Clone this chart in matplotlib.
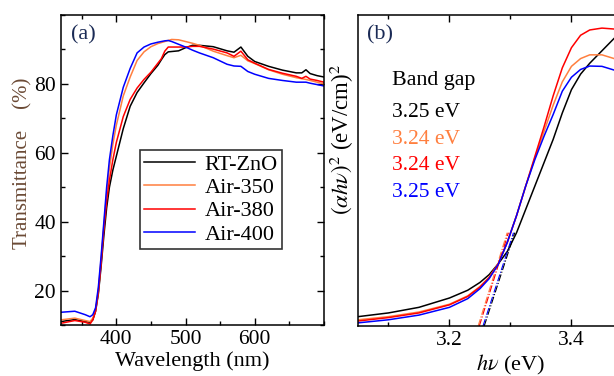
import matplotlib
matplotlib.use("Agg")
import matplotlib.pyplot as plt
from matplotlib.ticker import MultipleLocator

plt.rcParams['font.family'] = ['Liberation Serif', 'DejaVu Serif']
plt.rcParams['mathtext.fontset'] = 'stix'

# (a) transmittance spectra
wavelength = [320, 340, 355, 362, 366, 370, 374, 378, 382, 386, 390, 395, 400, 410, 420,
              430, 440, 450, 460, 465, 470, 475, 480, 490, 500, 510, 520, 540, 560, 570,
              580, 590, 600, 620, 640, 660, 668, 674, 680, 690, 700]
t_rt = [11, 11.6, 11, 10.8, 11.5, 14, 19, 27, 36, 44, 50, 55, 59, 67, 73.5,
        77.5, 80.3, 83, 85.4, 87, 88.5, 89.3, 89.4, 89.6, 90.5, 91.2, 91.2, 90.8, 89.6, 89.2,
        90.7, 88, 86.5, 85.1, 84, 83.2, 83.2, 84.1, 83, 82.4, 82]
t_350 = [11.5, 12, 11.3, 11, 12, 14.5, 20, 29, 39, 48, 55.5, 62.5, 68, 76.5, 82,
         86.8, 89.3, 90.8, 91.7, 92, 92.3, 92.6, 92.9, 92.8, 92.3, 91.8, 91.2, 89.5, 88.2, 87.6,
         88.3, 86.7, 85.9, 84.1, 82.8, 81.8, 81.5, 81.3, 81, 80.5, 80]
t_380 = [10.5, 11.3, 10.8, 10.3, 11.5, 14, 19.5, 28, 38, 46, 52, 58, 63, 70.5, 75.5,
         78.8, 81.3, 83.4, 86, 87.3, 89.5, 90.7, 90.7, 90.7, 90.7, 90.9, 90.9, 90.1, 89, 88,
         89.5, 87, 86, 84.2, 83.1, 82.2, 81.6, 82.2, 81.4, 81, 80.5]
t_400 = [13.7, 14, 13, 12.4, 13, 15, 21, 30, 40, 50, 58, 65, 71, 79, 84.5,
         89, 90.7, 91.6, 92.1, 92.3, 92.5, 92.6, 92.3, 91.5, 90.7, 89.8, 89.0, 87.6, 85.7, 85.2,
         85.1, 83.6, 82.8, 81.6, 81, 80.5, 80.5, 80.5, 80.2, 79.8, 79.4]
wl_ticks = [400, 500, 600]

# (b) Tauc plot (arbitrary units)
hv = [3.05, 3.10, 3.15, 3.20, 3.23, 3.25, 3.265, 3.28, 3.295, 3.31, 3.325, 3.34, 3.355,
      3.37, 3.385, 3.40, 3.415, 3.43, 3.45, 3.47, 3.49]
a_rt = [0.03, 0.042, 0.06, 0.09, 0.115, 0.14, 0.165, 0.20, 0.24, 0.30, 0.375, 0.45, 0.525,
        0.60, 0.685, 0.76, 0.81, 0.845, 0.885, 0.925, 0.95]
a_350 = [0.02, 0.03, 0.045, 0.07, 0.097, 0.127, 0.157, 0.20, 0.27, 0.355, 0.45, 0.54, 0.625,
         0.71, 0.785, 0.835, 0.86, 0.872, 0.872, 0.86, 0.855]
a_380 = [0.016, 0.027, 0.042, 0.068, 0.095, 0.125, 0.155, 0.20, 0.27, 0.355, 0.45, 0.545, 0.64,
         0.74, 0.83, 0.895, 0.935, 0.952, 0.958, 0.955, 0.95]
a_400 = [0.01, 0.02, 0.035, 0.06, 0.088, 0.12, 0.152, 0.198, 0.27, 0.355, 0.45, 0.535, 0.61,
         0.68, 0.755, 0.80, 0.825, 0.836, 0.835, 0.823, 0.815]

labels = ['RT-ZnO', 'Air-350', 'Air-380', 'Air-400']
colors = ['black', '#ff7f3f', '#ff0000', '#0000ff']
band_gaps = ['3.25 eV', '3.24 eV', '3.24 eV', '3.25 eV']
fit_x0 = [3.257, 3.247, 3.249, 3.255]
fit_slope = [6.0, 6.3, 6.3, 6.0]
fit_top = 0.3

fig = plt.figure(figsize=(6.14, 3.76), dpi=100)
ax1 = fig.add_axes([0.0993, 0.1356, 0.4283, 0.8245])
# panel (b) runs past the right edge of the figure, as in the original crop
ax2 = fig.add_axes([0.583, 0.133, 0.4967, 0.827])

for y, lab, c in zip([t_rt, t_350, t_380, t_400], labels, colors):
    ax1.plot(wavelength, y, color=c, lw=1.1, label=lab)
ax1.set_xlim(320, 700)
ax1.set_ylim(10, 100)
ax1.set_xticks(wl_ticks)
ax1.xaxis.set_minor_locator(MultipleLocator(50))
ax1.yaxis.set_minor_locator(MultipleLocator(10))
ax1.set_yticks([20, 40, 60, 80])
ax1.tick_params(which='both', direction='in', top=True, right=True, labelsize=15.5, width=1)
ax1.tick_params(which='major', length=5)
ax1.tick_params(which='minor', length=3)
ax1.set_xlabel('Wavelength (nm)', fontsize=16, labelpad=2)
ax1.set_ylabel('Transmittance    (%)', fontsize=15, color='#6b4a35')
ax1.yaxis.set_label_coords(-0.11, 0.52)
ax1.text(0.038, 0.935, '(a)', transform=ax1.transAxes, fontsize=16, va='center', color='#1a2a55')
leg = ax1.legend(loc='upper left', bbox_to_anchor=(0.3, 0.565), fontsize=16, frameon=True,
                 fancybox=False, handlelength=2.3, borderpad=0.2, labelspacing=0.12,
                 handletextpad=0.4, borderaxespad=0)
leg.get_frame().set_edgecolor('black')
leg.get_frame().set_linewidth(1.2)

for y, c, x0, k in zip([a_rt, a_350, a_380, a_400], colors, fit_x0, fit_slope):
    ax2.plot(hv, y, color=c, lw=1.1)
    ax2.plot([x0, x0 + fit_top / k], [0, fit_top], color=c, lw=0.8, ls='-.')
ax2.set_xlim(3.05, 3.55)
ax2.set_ylim(0, 1)
ax2.xaxis.set_minor_locator(MultipleLocator(0.1))
ax2.set_xticks([3.2, 3.4])
ax2.tick_params(which='both', direction='in', top=True, left=False, labelleft=False,
                labelsize=15.5, width=1)
ax2.tick_params(which='major', length=5)
ax2.tick_params(which='minor', length=3)
ax2.set_xlabel(r'$h\nu$ (eV)', fontsize=16, labelpad=2)
ax2.set_ylabel(r'$(\alpha h\nu)^2$ (eV/cm)$^2$', fontsize=16.5)
ax2.yaxis.set_label_coords(-0.007, 0.6)
ax2.text(0.03, 0.935, '(b)', transform=ax2.transAxes, fontsize=16, va='center', color='#1a2a55')
ax2.text(0.11, 0.79, 'Band gap', transform=ax2.transAxes, fontsize=15.8, va='center')
for i, (bg, c) in enumerate(zip(band_gaps, colors)):
    ax2.text(0.113, 0.685 - i * 0.085, bg, transform=ax2.transAxes, fontsize=15.5,
             va='center', color=c)

for ax in (ax1, ax2):
    for s in ax.spines.values():
        s.set_linewidth(1.1)

fig.savefig('out.png', dpi=100)
